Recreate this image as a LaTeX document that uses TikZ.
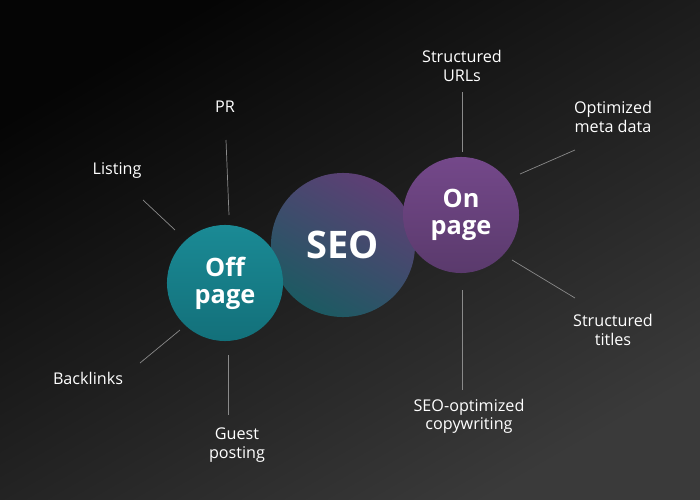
\documentclass[tikz,border=0pt]{standalone}
\usepackage{fontspec}
\setmainfont{Open Sans}
\usetikzlibrary{positioning}
\definecolor{bgdark}{HTML}{050505}
\definecolor{bglight}{HTML}{3A3A3A}
\definecolor{offteal}{HTML}{1A8A95}
\definecolor{offtealdk}{HTML}{13707A}
\definecolor{onpurple}{HTML}{74488A}
\definecolor{onpurpledk}{HTML}{5A3A6C}
\definecolor{seopurple}{HTML}{5E3F75}
\definecolor{seoteal}{HTML}{1C5A62}
\definecolor{leader}{HTML}{8A8A8A}
\begin{document}
\begin{tikzpicture}[x=0.025cm,y=-0.025cm,
  BallStyle/.style={circle, inner sep=0pt, text=white, font=\bfseries, align=center},
  tagtext/.style={text=white, font=\fontsize{11.5}{13}\selectfont, align=center, inner sep=1pt},
  leaderline/.style={draw=leader, line width=0.5pt}]
  \shade[left color=bgdark, right color=bglight, shading angle=30] (0,0) rectangle (700,500);
  \useasboundingbox (0,0) rectangle (700,500);
  %%% BALLS %%%
  \node[BallStyle, minimum size=3.6cm, shade, top color=seopurple, bottom color=seoteal,
        shading angle=-30, font=\bfseries\fontsize{27}{30}\selectfont] (seo) at (343,245) {SEO};
  \node[BallStyle, minimum size=2.9cm, shade, top color=offteal, bottom color=offtealdk,
        font=\bfseries\fontsize{18}{19}\selectfont] (off) at (225,283) {Off\\page};
  \node[BallStyle, minimum size=2.9cm, shade, top color=onpurple, bottom color=onpurpledk,
        font=\bfseries\fontsize{18}{19}\selectfont] (on) at (461,215) {On\\page};
  %%% OFF PAGE %%%
  \node[tagtext] (pr) at (225,107) {PR};
  \node[tagtext] (listing) at (117,171) {Listing};
  \node[tagtext] (backlinks) at (88,378) {Backlinks};
  \node[tagtext] (guest) at (237,445) {Guest\\posting};
  \coordinate (pra) at (226,140); \coordinate (prb) at (229,215);
  \coordinate (lia) at (143,200); \coordinate (lib) at (175,230);
  \coordinate (baa) at (140,363); \coordinate (bab) at (180,330);
  \coordinate (gua) at (228,355); \coordinate (gub) at (228,415);
  \draw[leaderline] (pra) -- (prb);
  \draw[leaderline] (lia) -- (lib);
  \draw[leaderline] (baa) -- (bab);
  \draw[leaderline] (gua) -- (gub);
  %%% ON PAGE %%%
  \node[tagtext] (urls) at (462,66) {Structured\\URLs};
  \node[tagtext] (meta) at (613,117) {Optimized\\meta data};
  \node[tagtext] (titles) at (613,330) {Structured\\titles};
  \node[tagtext] (copy) at (469,416) {SEO-optimized\\copywriting};
  \coordinate (ura) at (462,92); \coordinate (urb) at (462,152);
  \coordinate (mea) at (575,150); \coordinate (meb) at (520,174);
  \coordinate (tia) at (512,260); \coordinate (tib) at (575,298);
  \coordinate (coa) at (462,290); \coordinate (cob) at (462,390);
  \draw[leaderline] (ura) -- (urb);
  \draw[leaderline] (mea) -- (meb);
  \draw[leaderline] (tia) -- (tib);
  \draw[leaderline] (coa) -- (cob);
\end{tikzpicture}
\end{document}
